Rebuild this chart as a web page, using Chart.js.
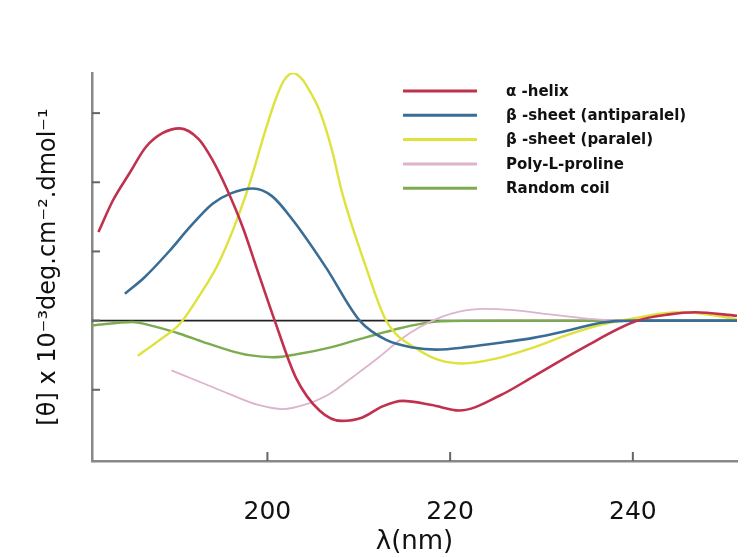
<!DOCTYPE html>
<html>
<head>
<meta charset="utf-8">
<script src="https://cdn.jsdelivr.net/npm/chart.js@4.4.1/dist/chart.umd.min.js"></script>
<style>
  html, body { margin: 0; padding: 0; background: #fff; }
  canvas { display: block; }
</style>
</head>
<body>
<canvas id="cdChart" width="753" height="558"></canvas>
<script>
// CD spectra of secondary structures
const seriesLabels = ['α -helix', 'β -sheet (antiparalel)', 'β -sheet (paralel)', 'Poly-L-proline', 'Random coil'];
const seriesColors = ['#c0304f', '#3a6d95', '#dfe23c', '#dcb4cc', '#7cab50'];
const seriesWidths = [2.6, 2.6, 2.4, 1.8, 2.4];

const helixX = [181.5, 183.1, 184.9, 186.7, 188.5, 190.4, 192.5, 194, 195.5, 197.3, 198.8, 200.8, 203.1, 205.7, 208.1, 210.4, 212.6, 214.8, 218, 221, 225.5, 229.1, 234.6, 240.5, 244, 246.8, 251.4];
const helixY = [1.28, 1.74, 2.13, 2.51, 2.71, 2.78, 2.62, 2.32, 1.92, 1.35, 0.77, 0.0, -0.82, -1.30, -1.45, -1.40, -1.24, -1.16, -1.22, -1.30, -1.08, -0.81, -0.39, 0.0, 0.09, 0.12, 0.07];

const antiX = [184.4, 186.5, 189.3, 191.5, 194, 196, 198.4, 200.5, 202.8, 206.4, 210.1, 213, 215.9, 218.5, 222, 226, 229.1, 233, 236.5, 240, 251.4];
const antiY = [0.39, 0.62, 1.01, 1.35, 1.69, 1.84, 1.91, 1.80, 1.45, 0.77, 0.0, -0.28, -0.39, -0.42, -0.38, -0.31, -0.25, -0.14, -0.03, 0.0, 0.0];

const paraX = [185.8, 188, 190.4, 192.5, 194.8, 197.7, 199.9, 200.9, 201.8, 202.8, 203.8, 204.8, 205.7, 207, 208.2, 210.8, 213, 216.6, 219, 221.4, 225, 229.1, 233, 236.5, 240, 243, 245.7, 248, 251.4];
const paraY = [-0.51, -0.30, -0.05, 0.35, 0.87, 1.84, 2.80, 3.20, 3.47, 3.58, 3.49, 3.28, 3.04, 2.50, 1.84, 0.77, 0.0, -0.43, -0.58, -0.62, -0.55, -0.39, -0.20, -0.06, 0.03, 0.10, 0.12, 0.09, 0.02];

const prolineX = [189.5, 192.5, 195.8, 199, 201.7, 204, 206.8, 209.5, 212.2, 214.5, 216.6, 219, 221, 223.6, 227, 230.9, 235, 238.6, 251.4];
const prolineY = [-0.72, -0.88, -1.06, -1.22, -1.28, -1.22, -1.06, -0.80, -0.53, -0.28, -0.10, 0.05, 0.13, 0.17, 0.15, 0.09, 0.03, 0.0, 0.0];

const coilX = [180.8, 185.2, 187.5, 190.4, 193, 195.8, 198, 200.6, 203.5, 206.8, 209.5, 212.2, 214.5, 216.6, 219, 225, 251.4];
const coilY = [-0.07, -0.02, -0.08, -0.19, -0.31, -0.43, -0.50, -0.53, -0.48, -0.39, -0.29, -0.19, -0.11, -0.05, -0.01, 0.0, 0.0];

const xTicks = [200, 220, 240];
const yTicks = [-1, 0, 1, 2, 3];

const seriesX = [helixX, antiX, paraX, prolineX, coilX];
const seriesY = [helixY, antiY, paraY, prolineY, coilY];

(function () {
    const canvas = document.getElementById('cdChart');
    const fontFamily = '"DejaVu Sans", Arial, sans-serif';

    const datasets = seriesLabels.map((label, i) => ({
        label,
        data: seriesX[i].map((x, j) => ({ x, y: seriesY[i][j] })),
        borderColor: seriesColors[i],
        borderWidth: seriesWidths[i],
        pointRadius: 0,
        fill: false,
        cubicInterpolationMode: 'monotone',
    }));

    // zero line + inward tick marks
    const axisDecor = {
        id: 'axisDecor',
        beforeDatasetsDraw(chart) {
            const { ctx, chartArea, scales } = chart;
            const y0 = scales.y.getPixelForValue(0);
            ctx.save();
            ctx.strokeStyle = '#222';
            ctx.lineWidth = 1.6;
            ctx.beginPath();
            ctx.moveTo(chartArea.left, y0);
            ctx.lineTo(chartArea.right, y0);
            ctx.stroke();
            ctx.restore();
        },
        afterDraw(chart) {
            const { ctx, chartArea, scales } = chart;
            ctx.save();
            ctx.strokeStyle = '#666';
            ctx.lineWidth = 2;
            yTicks.forEach((v) => {
                const py = scales.y.getPixelForValue(v);
                ctx.beginPath();
                ctx.moveTo(chartArea.left, py);
                ctx.lineTo(chartArea.left + 8, py);
                ctx.stroke();
            });
            xTicks.forEach((v) => {
                const px = scales.x.getPixelForValue(v);
                ctx.beginPath();
                ctx.moveTo(px, chartArea.bottom);
                ctx.lineTo(px, chartArea.bottom - 9);
                ctx.stroke();
            });
            ctx.restore();
        },
    };

    // legend in the upper right, line sample + label
    const lineLegend = {
        id: 'lineLegend',
        afterDraw(chart) {
            const { ctx } = chart;
            ctx.save();
            ctx.font = 'bold 15px ' + fontFamily;
            ctx.textBaseline = 'middle';
            chart.data.datasets.forEach((ds, i) => {
                const y = 91 + i * 24.3;
                ctx.strokeStyle = ds.borderColor;
                ctx.lineWidth = 3;
                ctx.beginPath();
                ctx.moveTo(403, y);
                ctx.lineTo(477, y);
                ctx.stroke();
                ctx.fillStyle = '#111';
                ctx.fillText(ds.label, 506, y + 1);
            });
            ctx.restore();
        },
    };

    new Chart(canvas, {
        type: 'line',
        data: { datasets },
        options: {
            responsive: false,
            animation: false,
            layout: { padding: { top: 73, right: 16, left: 0, bottom: 0 } },
            plugins: {
                legend: { display: false },
                tooltip: { enabled: false },
            },
            scales: {
                x: {
                    type: 'linear',
                    min: 180.8,
                    max: 251.4,
                    afterBuildTicks: (s) => { s.ticks = xTicks.map((v) => ({ value: v })); },
                    afterFit: (s) => { s.height = 97; },
                    grid: { display: true, drawOnChartArea: false, drawTicks: false },
                    border: { color: '#888', width: 2.5 },
                    ticks: {
                        color: '#111',
                        padding: 36,
                        font: { family: fontFamily, size: 25 },
                    },
                    title: {
                        display: true,
                        text: 'λ(nm)',
                        color: '#111',
                        padding: { top: 0, bottom: 0 },
                        font: { family: fontFamily, size: 26 },
                    },
                },
                y: {
                    type: 'linear',
                    min: -2.03,
                    max: 3.58,
                    afterFit: (s) => { s.width = 92; },
                    grid: { display: true, drawOnChartArea: false, drawTicks: false },
                    border: { color: '#888', width: 2.5 },
                    ticks: { display: false },
                    title: {
                        display: true,
                        text: '[θ] x 10⁻³deg.cm⁻².dmol⁻¹',
                        color: '#111',
                        padding: { top: 34, bottom: 0 },
                        font: { family: fontFamily, size: 24 },
                    },
                },
            },
        },
        plugins: [axisDecor, lineLegend],
    });
})();
</script>
</body>
</html>
